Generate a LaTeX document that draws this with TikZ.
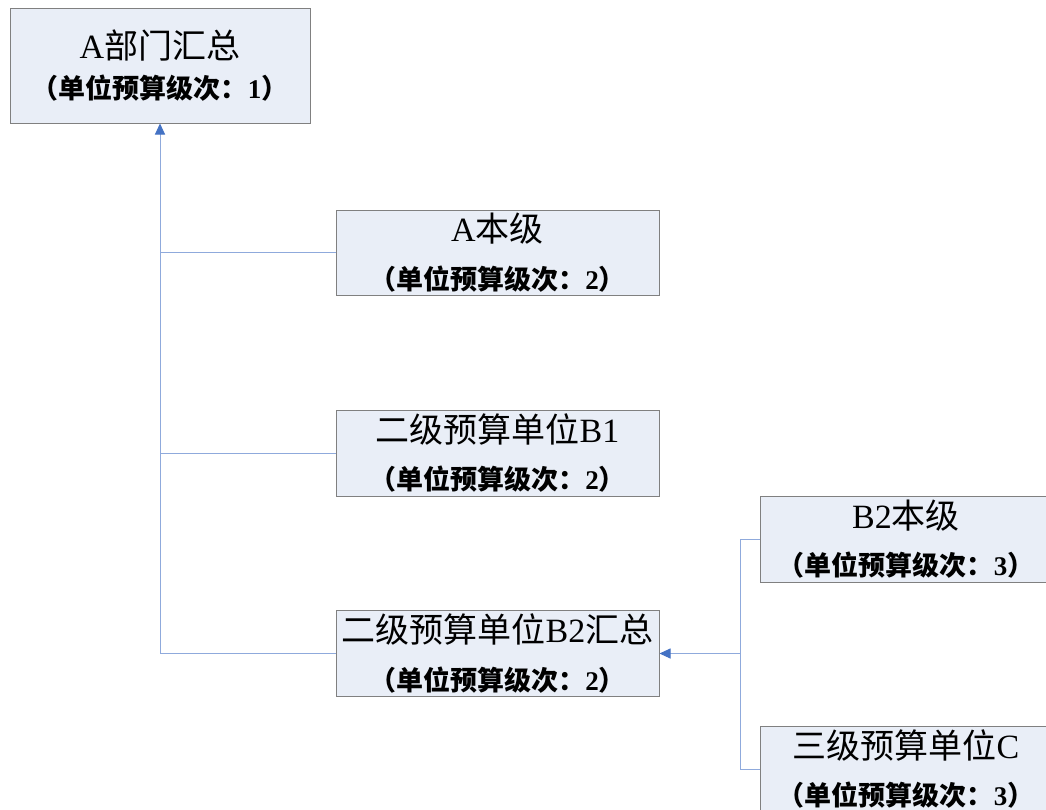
\documentclass[tikz,border=0pt]{standalone}
\usepackage{fontspec}
\setmainfont{Liberation Serif}
\newfontfamily\cjk{Noto Sans CJK SC}
\usetikzlibrary{arrows.meta}
\definecolor{boxfill}{HTML}{E9EEF7}
\definecolor{boxline}{HTML}{808080}
\definecolor{connline}{HTML}{8FAADC}
\definecolor{arrowblue}{HTML}{4472C4}
\newcommand{\ttl}[1]{\fontsize{34}{40}\selectfont #1}
\newcommand{\sub}[1]{\fontsize{27}{32}\selectfont\bfseries{\cjk （单位预算级次：}#1{\cjk ）}}
\begin{document}
\begin{tikzpicture}[x=1pt,y=-1pt,
  box/.style={draw=boxline, fill=boxfill, line width=1pt, inner sep=0pt, align=center, text=black},
  conn/.style={draw=connline, line width=1pt},
  arr/.style={conn, -{Triangle[length=11pt,width=10pt,fill=arrowblue,color=arrowblue]}}]
\useasboundingbox (0,0) rectangle (1046,809);
\fill[white] (0,0) rectangle (1046,809);
\node[box, minimum width=300pt, minimum height=115pt] (a) at (160,65.5)
  {\ttl{A{\cjk 部门汇总}}\\[13pt]\sub{1}};
\node[box, minimum width=323pt, minimum height=85pt] (a1) at (497.5,252.5)
  {\ttl{A{\cjk 本级}}\\[20pt]\sub{2}};
\node[box, minimum width=323pt, minimum height=86pt] (b1) at (497.5,453)
  {\ttl{{\cjk 二级预算单位}B1}\\[20pt]\sub{2}};
\node[box, minimum width=323pt, minimum height=86pt] (b2) at (497.5,653.5)
  {\ttl{{\cjk 二级预算单位}B2{\cjk 汇总}}\\[20pt]\sub{2}};
\node[box, minimum width=292pt, minimum height=86pt] (b2b) at (906,539)
  {\ttl{B2{\cjk 本级}}\\[20pt]\sub{3}};
\node[box, minimum width=292pt, minimum height=86pt] (c) at (906,769)
  {\ttl{{\cjk 三级预算单位}C}\\[19pt]\sub{3}};
\coordinate (j) at (160,653.5);
\coordinate (k) at (740,653.5);
\draw[arr] (j) -- (a.south);
\draw[conn] (a1.west) -- (a1.west -| j);
\draw[conn] (b1.west) -- (b1.west -| j);
\draw[conn] (b2.west) -- (j);
\draw[arr] (k) -- (b2.east);
\draw[conn] (b2b.west) -- (b2b.west -| k) -- (c.west -| k) -- (c.west);
\end{tikzpicture}
\end{document}
